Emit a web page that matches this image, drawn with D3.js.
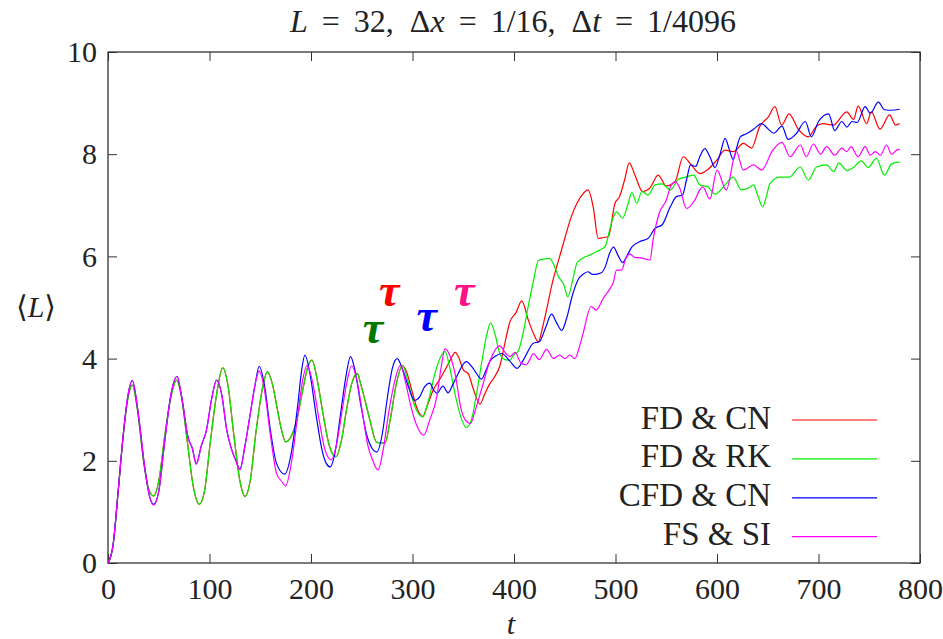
<!DOCTYPE html>
<html>
<head>
<meta charset="utf-8">
<script src="https://cdn.jsdelivr.net/npm/d3@7"></script>
<style>
  body { margin: 0; background: #fff; }
  svg text { font-family: 'Liberation Serif', 'DejaVu Serif', serif; fill: #222; }
</style>
</head>
<body>
<div id="chart"></div>
<script>
// Series: [t, <L>]
const fdCN = [[0,0],[5,0.35],[10,1.4],[15,2.5],[19,3.15],[24,3.48],[29,3.0],[35,2.0],[40,1.45],[45,1.31],[50,1.6],[56,2.5],[62,3.25],[67.6,3.58],[72,3.3],[78,2.4],[84,1.5],[90,1.15],[95,1.4],[101,2.4],[107,3.3],[113,3.82],[118,3.5],[124,2.5],[130,1.6],[135,1.3],[140,1.6],[146,2.6],[152,3.4],[157,3.74],[162,3.5],[166,3.1],[171,2.6],[175,2.37],[181,2.5],[186,2.8],[192,3.4],[197,3.85],[201,3.97],[206,3.6],[212,2.9],[218,2.3],[224.6,2.08],[230,2.4],[235,3.0],[240,3.5],[245.6,3.71],[249,3.5],[253,3.2],[258,2.8],[264.7,2.36],[273,2.35],[278,2.8],[284,3.5],[290,3.86],[294,3.75],[299,3.4],[305,3.0],[310,2.87],[315,3.1],[320.5,3.39],[327,3.6],[333.7,3.84],[338,4.0],[342,4.12],[346,4.0],[350,3.78],[355,3.7],[360,3.4],[366.5,3.11],[371,3.3],[376,3.5],[381,3.65],[386,3.85],[391,4.3],[396,4.72],[402,4.9],[407.6,5.13],[414,4.76],[419,4.5],[424,4.33],[428,4.6],[432,4.95],[438,5.5],[445,6.0],[450,6.35],[456,6.75],[462,7.04],[467,7.2],[473,7.3],[478,6.97],[483,6.35],[488,6.37],[493,6.39],[499.5,7.04],[504,7.17],[509,7.5],[513.6,7.83],[519,7.6],[526.7,7.27],[534,7.34],[542,7.59],[550,7.38],[558.6,7.46],[566.8,7.95],[575,7.78],[583,7.62],[591,7.7],[600,7.89],[608,8.08],[616,8.05],[626,8.21],[634,8.12],[642,8.54],[650.6,8.73],[657,8.93],[663.7,8.57],[671,8.79],[680,8.49],[690,8.34],[697.6,8.54],[704,8.6],[714.6,8.57],[727.8,8.83],[734.6,8.68],[739,8.94],[747.5,8.6],[752,8.83],[760.6,8.49],[770,8.77],[776,8.57],[780,8.6]];

const fdRK = [[0,0],[5,0.35],[10,1.4],[15,2.5],[19,3.15],[24,3.48],[29,3.0],[35,2.0],[40,1.45],[45,1.31],[50,1.6],[56,2.5],[62,3.25],[67.6,3.58],[72,3.3],[78,2.4],[84,1.5],[90,1.15],[95,1.4],[101,2.4],[107,3.3],[113,3.82],[118,3.5],[124,2.5],[130,1.6],[135,1.3],[140,1.6],[146,2.6],[152,3.4],[157,3.74],[162,3.5],[166,3.1],[171,2.6],[175,2.37],[181,2.5],[186,2.8],[192,3.4],[197,3.85],[201,3.97],[206,3.6],[212,2.9],[218,2.3],[224.6,2.08],[230,2.4],[235,3.0],[240,3.5],[245.6,3.71],[249,3.5],[253,3.2],[258,2.8],[264.7,2.36],[273,2.35],[278,2.8],[284,3.5],[290,3.86],[295,3.6],[300,3.2],[305,2.95],[310,2.86],[316,3.2],[322,3.7],[327,4.0],[332,4.14],[337,3.8],[342,3.3],[347,2.9],[353,2.65],[358,2.8],[363,3.3],[368,3.9],[373,4.45],[377,4.7],[381,4.5],[386,4.1],[391,3.98],[396,3.97],[400,4.08],[404,4.14],[409,4.5],[414,5.02],[419,5.5],[424,5.92],[430,5.95],[435,5.96],[440,5.8],[444,5.6],[449,5.45],[453,5.21],[458,5.55],[462,5.87],[468,5.97],[475,6.03],[481,6.09],[485,6.13],[490,6.2],[494,6.5],[498,6.78],[501,6.87],[507,6.75],[512,7.0],[516,7.25],[521,7.04],[526,7.27],[532,7.2],[539,7.4],[546,7.42],[554,7.3],[562,7.51],[569,7.55],[577,7.59],[583,7.4],[591,7.36],[598,7.22],[608,7.4],[616,7.55],[624,7.3],[632,7.35],[636,7.4],[640,7.2],[645,6.97],[649,7.2],[652,7.42],[662,7.55],[671,7.55],[682,7.75],[690,7.49],[698,7.75],[708,7.79],[715,7.66],[720,7.83],[728,7.68],[735,7.75],[742,7.87],[749,7.74],[757,7.92],[765,7.59],[772,7.81],[780,7.85]];

const cfdCN = [[0,0],[5,0.35],[10,1.4],[15,2.5],[19,3.2],[24,3.57],[30,2.9],[36,1.9],[41,1.3],[45,1.15],[50,1.4],[56,2.4],[62,3.3],[68,3.65],[73,3.2],[79,2.45],[83,2.25],[87,1.95],[92,2.3],[97,2.6],[102,3.2],[107,3.58],[112,3.3],[117,2.6],[122,2.21],[126,2.0],[130,1.84],[135,2.3],[140,2.9],[145,3.5],[149,3.85],[154,3.5],[160,2.6],[166,1.95],[174,1.74],[181,2.2],[187,3.1],[191,3.8],[194,4.07],[199,3.7],[205,2.9],[211,2.2],[215,1.95],[219,1.88],[224,2.2],[229,2.9],[234,3.6],[239,4.04],[243,3.8],[249,3.1],[255,2.5],[260,2.25],[265,2.17],[270,2.5],[275,3.2],[280,3.8],[285,4.0],[290,3.8],[296,3.45],[302,3.18],[307,3.25],[312,3.45],[317,3.52],[321,3.38],[324,3.32],[330,3.46],[335,3.33],[340,3.5],[345,3.71],[353,3.94],[360,3.8],[368,3.6],[372,3.75],[376,3.94],[382,4.05],[388,4.1],[396,3.95],[403,3.81],[410,4.0],[419,4.3],[425,4.33],[431,4.6],[437,4.87],[442,4.7],[447,4.55],[452,4.8],[457,5.2],[463,5.54],[468,5.65],[473,5.7],[477,5.65],[480,5.65],[486,5.68],[490,5.8],[494,6.05],[498,6.18],[503,6.0],[507,5.88],[511,6.0],[516,6.18],[524,6.29],[532,6.35],[539,6.55],[546,6.62],[554,6.97],[560,7.17],[566,7.2],[570,7.5],[574,7.79],[579,7.76],[583,7.95],[588,8.11],[593,7.95],[598,7.74],[603,8.0],[608,8.31],[612,8.1],[616,7.89],[619,8.1],[623,8.34],[629,8.4],[636,8.49],[644,8.6],[650,8.5],[656,8.41],[664,8.55],[670,8.29],[678,8.4],[687,8.64],[693,8.34],[700,8.64],[710,8.79],[716,8.46],[723,8.64],[728,8.53],[733,8.64],[738,8.62],[746,8.93],[751,8.8],[759,9.02],[765,8.87],[772,8.86],[780,8.88]];

const fsSI = [[0,0],[5,0.35],[10,1.4],[15,2.5],[19,3.2],[24,3.57],[30,2.9],[36,1.9],[41,1.3],[45,1.13],[50,1.4],[56,2.4],[62,3.3],[68,3.65],[73,3.2],[79,2.45],[83,2.25],[87,1.93],[92,2.3],[97,2.6],[102,3.2],[107,3.58],[112,3.3],[117,2.6],[122,2.21],[126,2.0],[130,1.82],[135,2.3],[140,2.9],[145,3.5],[149,3.76],[154,3.4],[160,2.5],[166,1.76],[171,1.6],[175,1.51],[181,2.0],[187,2.9],[192,3.6],[196,3.87],[202,3.5],[208,2.8],[214,2.2],[220,2.02],[225,2.3],[230,2.9],[235,3.5],[240,3.86],[245,3.6],[251,2.9],[256,2.3],[261,2.0],[266,1.82],[271,2.2],[277,3.0],[283,3.6],[288,3.87],[293,3.55],[298,3.1],[304,2.7],[311,2.5],[317,2.8],[324,3.26],[328,3.8],[332,4.19],[337,4.05],[342,3.7],[348,3.0],[352,2.8],[357,2.73],[362,3.0],[368,3.4],[376,3.94],[386,4.25],[392,4.1],[396,4.04],[401,4.12],[407,3.91],[412,3.88],[416,4.0],[419,4.1],[425,3.98],[432,4.18],[439,4.0],[445,4.07],[450,4.0],[455,4.07],[460,4.0],[464,4.2],[468,4.49],[476,5.02],[481,4.95],[488,5.18],[494,5.35],[498,5.5],[501,5.73],[506,5.73],[510,5.95],[514,6.05],[519,5.98],[525,5.97],[534,5.93],[537,6.32],[543,6.84],[550,7.1],[555,7.4],[559,7.46],[563,7.35],[570,6.94],[578,7.1],[583,7.3],[586,7.36],[593,7.12],[600,7.69],[609,7.3],[619,8.05],[626,7.69],[636,7.79],[644,7.69],[655,8.08],[664,8.23],[672,7.95],[682,8.18],[688,7.95],[695,8.2],[702,8.0],[708,8.15],[716,7.98],[723,8.12],[728,8.05],[732,8.15],[739,7.95],[746,8.15],[751,7.98],[756,8.05],[761,7.98],[767,8.18],[772,8.0],[777,8.08],[780,8.1]];

const seriesNames = ["FD & CN", "FD & RK", "CFD & CN", "FS & SI"];
const seriesColors = ["#ff0000", "#00ee00", "#0000ff", "#ff00ff"];
const xTicks = [0, 100, 200, 300, 400, 500, 600, 700, 800];
const yTicks = [0, 2, 4, 6, 8, 10];

// tau markers: [t, L, colour]
const tauMarks = [[277, 5.3, "#ff0000"], [261, 4.57, "#007700"], [314, 4.81, "#0000ff"], [351, 5.3, "#ff1188"]];

const width = 943, height = 639;
const margin = { left: 108, right: 23, top: 52, bottom: 76 };

const svg = d3.select("#chart").append("svg")
    .attr("width", width)
    .attr("height", height);

const x = d3.scaleLinear().domain([0, 800]).range([margin.left, width - margin.right]);
const y = d3.scaleLinear().domain([0, 10]).range([height - margin.bottom, margin.top]);

// axes, ticks pointing inward (mirrored on top and right)
const xAxis = svg.append("g")
    .attr("transform", `translate(0,${y(0)})`)
    .call(d3.axisBottom(x).tickValues(xTicks).tickSizeInner(-9).tickSizeOuter(0).tickPadding(15));
const xTop = svg.append("g")
    .attr("transform", `translate(0,${y(10)})`)
    .call(d3.axisTop(x).tickValues(xTicks).tickSizeInner(-9).tickSizeOuter(0).tickFormat(""));
const yAxis = svg.append("g")
    .attr("transform", `translate(${x(0)},0)`)
    .call(d3.axisLeft(y).tickValues(yTicks).tickSizeInner(-9).tickSizeOuter(0).tickPadding(11));
const yRight = svg.append("g")
    .attr("transform", `translate(${x(800)},0)`)
    .call(d3.axisRight(y).tickValues(yTicks).tickSizeInner(-9).tickSizeOuter(0).tickFormat(""));

[xAxis, xTop, yAxis, yRight].forEach(g => {
    g.select(".domain").remove();
    g.selectAll(".tick line").attr("stroke", "#333").attr("stroke-width", 1);
    g.selectAll(".tick text")
        .style("font-family", "'Liberation Serif', serif")
        .style("font-size", "30px")
        .attr("fill", "#222");
});

// frame
svg.append("rect")
    .attr("x", x(0)).attr("y", y(10))
    .attr("width", x(800) - x(0)).attr("height", y(0) - y(10))
    .attr("fill", "none").attr("stroke", "#333").attr("stroke-width", 1.3);

// lines
const line = d3.line()
    .x(d => x(d[0]))
    .y(d => y(d[1]))
    .curve(d3.curveMonotoneX);

[fdCN, fdRK, cfdCN, fsSI].forEach((data, i) => {
    svg.append("path")
        .datum(data)
        .attr("fill", "none")
        .attr("stroke", seriesColors[i])
        .attr("stroke-width", 1.2)
        .attr("d", line);
});

// tau annotations
svg.selectAll(".tau")
    .data(tauMarks)
    .enter()
    .append("text")
    .attr("class", "tau")
    .attr("x", d => x(d[0]))
    .attr("y", d => y(d[1]))
    .attr("dy", "0.3em")
    .attr("text-anchor", "middle")
    .style("font-size", "46px")
    .style("font-style", "italic")
    .style("font-weight", "bold")
    .style("fill", d => d[2])
    .text("τ");

// legend
const legend = svg.append("g");
seriesNames.forEach((name, i) => {
    const ly = 420 + i * 38.9;
    legend.append("text")
        .attr("x", 771)
        .attr("y", ly + 8.5)
        .attr("text-anchor", "end")
        .style("font-size", "33px")
        .text(name);
    legend.append("line")
        .attr("x1", 792).attr("x2", 877)
        .attr("y1", ly).attr("y2", ly)
        .attr("stroke", seriesColors[i])
        .attr("stroke-width", 1.2);
});

// title: en spaces after the commas, a bit of extra room round "="
const title = svg.append("text")
    .attr("x", 513)
    .attr("y", 32)
    .attr("text-anchor", "middle")
    .style("font-size", "32px")
    .style("word-spacing", "6px");
title.append("tspan").style("font-style", "italic").text("L");
title.append("tspan").text(" = 32,\u2002Δ");
title.append("tspan").style("font-style", "italic").text("x");
title.append("tspan").text(" = 1/16,\u2002Δ");
title.append("tspan").style("font-style", "italic").text("t");
title.append("tspan").text(" = 1/4096");

// axis labels
const yLabel = svg.append("text")
    .attr("x", 36)
    .attr("y", 317)
    .attr("text-anchor", "middle")
    .style("font-size", "30px");
yLabel.append("tspan").text("⟨");
yLabel.append("tspan").style("font-style", "italic").text("L");
yLabel.append("tspan").text("⟩");

svg.append("text")
    .attr("x", 511)
    .attr("y", 634)
    .attr("text-anchor", "middle")
    .style("font-size", "30px")
    .style("font-style", "italic")
    .text("t");
</script>
</body>
</html>
